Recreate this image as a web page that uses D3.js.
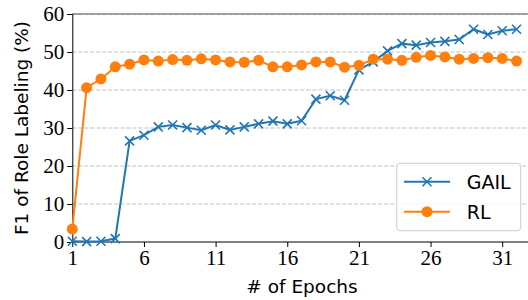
<!DOCTYPE html>
<html>
<head>
  <script src="https://cdn.jsdelivr.net/npm/d3@7/dist/d3.min.js"></script>
  <style>
    body { margin: 0; background: #fff; }
  </style>
</head>
<body>
  <svg width="528" height="300" id="mainsvg"></svg>
  <script>
    const epochs = d3.range(1, 33);
    const gail = [0.2, 0.1, 0.2, 0.9, 26.6, 28.1, 30.3, 30.8, 30.1, 29.4, 30.8, 29.5, 30.3, 31.1, 31.8, 31.1,
                  31.9, 37.6, 38.5, 37.3, 45.3, 47.4, 50.3, 52.2, 51.8, 52.5, 52.8, 53.3, 56.0, 54.6, 55.6, 56.0];
    const rl = [3.4, 40.6, 42.9, 46.1, 46.8, 47.9, 47.6, 48.0, 47.8, 48.2, 47.9, 47.4, 47.3, 47.8, 46.1, 46.1,
                46.6, 47.4, 47.4, 46.0, 46.5, 48.1, 48.1, 47.8, 48.6, 49.1, 48.7, 48.1, 48.3, 48.5, 48.3, 47.6];
    const xTicks = [1, 6, 11, 16, 21, 26, 31];
    const yTicks = [0, 10, 20, 30, 40, 50, 60];
    const seriesNames = ['GAIL', 'RL'];

    const svg = d3.select('svg');
    const margin = {top: 14, left: 72.3, bottom: 58};
    const height = +svg.attr('height');

    const x = d3.scaleLinear().domain([1, 33]).range([margin.left, margin.left + 32 * 14.33]);
    const y = d3.scaleLinear().domain([0, 60]).range([height - margin.bottom, margin.top]);

    // grid
    svg.append('g').selectAll('line').data(yTicks.slice(1)).join('line')
      .attr('x1', margin.left).attr('x2', 528)
      .attr('y1', d => y(d)).attr('y2', d => y(d))
      .attr('stroke', '#b0b0b0').attr('stroke-width', 0.8).attr('stroke-dasharray', '4,2');

    // top spine
    svg.append('line')
      .attr('x1', margin.left).attr('x2', 528)
      .attr('y1', y(60)).attr('y2', y(60))
      .attr('stroke', '#555').attr('stroke-width', 1);

    const xAxis = svg.append('g')
      .attr('transform', `translate(0,${y(0)})`)
      .call(d3.axisBottom(x).tickValues(xTicks).tickSize(5).tickPadding(3));
    xAxis.select('.domain').attr('d', `M${margin.left},0H528`);

    const yAxis = svg.append('g')
      .attr('transform', `translate(${margin.left},0)`)
      .call(d3.axisLeft(y).tickValues(yTicks).tickSize(5).tickPadding(3));

    svg.selectAll('.tick text')
      .attr('font-family', '"Liberation Serif", "DejaVu Serif", serif')
      .attr('font-size', 21).attr('fill', '#000');
    svg.selectAll('.domain').attr('stroke', '#000').attr('stroke-width', 1);

    const line = d3.line().x((d, i) => x(epochs[i])).y(d => y(d));
    const colors = ['#1f77b4', '#ff7f0e'];

    // GAIL
    svg.append('path').datum(gail)
      .attr('d', line).attr('fill', 'none')
      .attr('stroke', colors[0]).attr('stroke-width', 2);
    const cross = (cx, cy, s) => `M${cx - s},${cy - s}L${cx + s},${cy + s}M${cx - s},${cy + s}L${cx + s},${cy - s}`;
    svg.append('g').selectAll('path').data(gail).join('path')
      .attr('d', (d, i) => cross(x(epochs[i]), y(d), 4.5))
      .attr('stroke', colors[0]).attr('stroke-width', 1.6).attr('fill', 'none');

    // RL
    svg.append('path').datum(rl)
      .attr('d', line).attr('fill', 'none')
      .attr('stroke', colors[1]).attr('stroke-width', 2);
    svg.append('g').selectAll('circle').data(rl).join('circle')
      .attr('cx', (d, i) => x(epochs[i])).attr('cy', d => y(d))
      .attr('r', 5.5).attr('fill', colors[1]);

    // axis labels
    svg.append('text')
      .attr('x', 302).attr('y', 293)
      .attr('text-anchor', 'middle')
      .attr('font-family', '"DejaVu Sans", sans-serif').attr('font-size', 18.5)
      .text('# of Epochs');
    svg.append('text')
      .attr('transform', `translate(28,${(y(0) + y(60)) / 2}) rotate(-90)`)
      .attr('text-anchor', 'middle')
      .attr('font-family', '"DejaVu Sans", sans-serif').attr('font-size', 18.5)
      .text('F1 of Role Labeling (%)');

    // legend
    const lg = svg.append('g');
    lg.append('rect')
      .attr('x', 396.7).attr('y', 163.3).attr('width', 124).attr('height', 67.4)
      .attr('rx', 3).attr('fill', 'white').attr('fill-opacity', 0.8)
      .attr('stroke', '#ccc').attr('stroke-width', 1);
    seriesNames.forEach((name, i) => {
      const cy = 181.7 + i * 30;
      lg.append('line').attr('x1', 404).attr('x2', 450).attr('y1', cy).attr('y2', cy)
        .attr('stroke', colors[i]).attr('stroke-width', 2);
      if (i === 0) {
        lg.append('path').attr('d', cross(427, cy, 4.5))
          .attr('stroke', colors[0]).attr('stroke-width', 1.6);
      } else {
        lg.append('circle').attr('cx', 427).attr('cy', cy).attr('r', 5.5).attr('fill', colors[1]);
      }
      lg.append('text').attr('x', 466.7).attr('y', cy + 7)
        .attr('font-family', '"DejaVu Sans", sans-serif').attr('font-size', 19)
        .text(name);
    });
  </script>
</body>
</html>
